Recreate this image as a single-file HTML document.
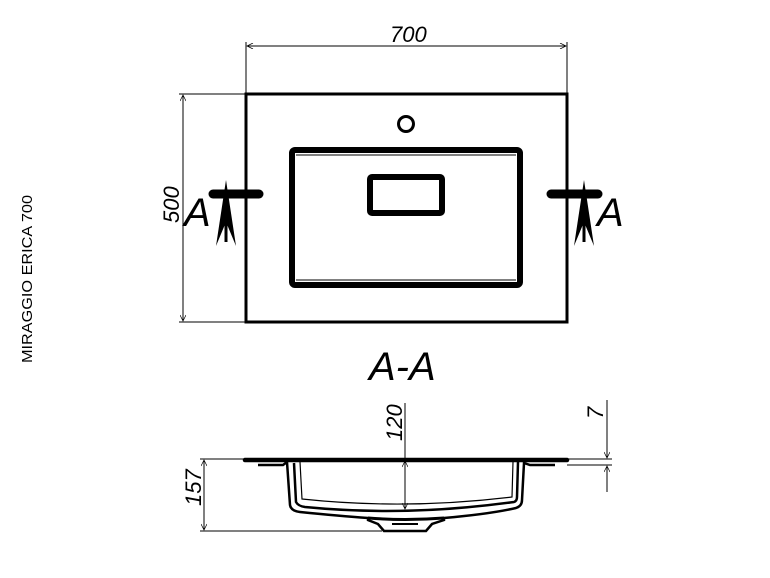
<!DOCTYPE html>
<html><head><meta charset="utf-8"><style>
html,body{margin:0;padding:0;background:#fff;}
svg{display:block;}
text{font-family:"Liberation Sans",sans-serif;font-style:italic;fill:#000;}
</style></head><body>
<svg width="770" height="578" viewBox="0 0 770 578" xmlns="http://www.w3.org/2000/svg">
<defs>
<marker id="ar" viewBox="0 0 10 10" refX="10" refY="5" markerWidth="12" markerHeight="6" orient="auto-start-reverse" markerUnits="userSpaceOnUse"><path d="M0,0 L10,5 L0,10" fill="none" stroke="#000" stroke-width="1.2"/></marker>
</defs>
<text x="0" y="0" transform="translate(32,363) rotate(-90)" font-size="14.5" textLength="168" lengthAdjust="spacingAndGlyphs" style="font-style:normal">MIRAGGIO ERICA 700</text>

<g fill="none" stroke="#000">
<line x1="246" y1="42" x2="246" y2="94" stroke-width="1"/>
<line x1="567" y1="42" x2="567" y2="94" stroke-width="1"/>
<line x1="247" y1="46" x2="566" y2="46" stroke-width="1" marker-start="url(#ar)" marker-end="url(#ar)"/>
<line x1="179" y1="94" x2="246" y2="94" stroke-width="1"/>
<line x1="179" y1="322" x2="246" y2="322" stroke-width="1"/>
<line x1="183" y1="95" x2="183" y2="321" stroke-width="1" marker-start="url(#ar)" marker-end="url(#ar)"/>
<rect x="246" y="94" width="321" height="228" stroke-width="3"/>
<circle cx="406" cy="124" r="7.5" stroke-width="3"/>
<rect x="292" y="150" width="228" height="135" rx="3" stroke-width="6"/>
<line x1="296" y1="155" x2="516" y2="155" stroke-width="1"/>
<line x1="296" y1="280" x2="516" y2="280" stroke-width="1"/>
<rect x="370" y="177" width="72" height="36" rx="2" stroke-width="6"/>
<line x1="213" y1="194" x2="259" y2="194" stroke-width="9" stroke-linecap="round"/>
<line x1="551" y1="194" x2="598" y2="194" stroke-width="9" stroke-linecap="round"/>
<line x1="226" y1="190" x2="226" y2="242" stroke-width="3"/>
<line x1="584" y1="190" x2="584" y2="242" stroke-width="3"/>
</g>
<path d="M226,180 L216,246 L226,222 L236,246 Z" fill="#000"/>
<path d="M584,180 L574,246 L584,222 L594,246 Z" fill="#000"/>
<text x="184" y="226" font-size="40">A</text>
<text x="597" y="226" font-size="40">A</text>
<text x="390" y="42" font-size="22">700</text>
<text x="0" y="0" transform="translate(179,223) rotate(-90)" font-size="22">500</text>
<text x="369" y="380" font-size="40">A-A</text>

<g fill="none" stroke="#000">
<line x1="200" y1="459" x2="245" y2="459" stroke-width="1"/>
<line x1="200" y1="531" x2="382" y2="531" stroke-width="1"/>
<line x1="204" y1="460" x2="204" y2="530" stroke-width="1" marker-start="url(#ar)" marker-end="url(#ar)"/>
<line x1="405" y1="403" x2="405" y2="460" stroke-width="1"/>
<line x1="405" y1="461" x2="405" y2="509" stroke-width="1" marker-start="url(#ar)" marker-end="url(#ar)"/>
<line x1="567" y1="459" x2="612" y2="459" stroke-width="1"/>
<line x1="567" y1="465" x2="612" y2="465" stroke-width="1"/>
<line x1="607" y1="400" x2="607" y2="458" stroke-width="1" marker-end="url(#ar)"/>
<line x1="607" y1="492" x2="607" y2="466" stroke-width="1" marker-end="url(#ar)"/>
<line x1="245" y1="460" x2="567" y2="460" stroke-width="4.5" stroke-linecap="round"/>
<path d="M258,465 L283,465 L287,462 L290,505 Q291,511 300,512 Q340,516 368,518 L368,520 L378,524 L384,531 L426,531 L432,524 L444,520 L444,518 Q490,514 516,508 Q522,506 522,500 L524,463 L530,465 L555,465" stroke-width="2.5"/>
<path d="M294,463 L296,502 Q298,506 305,507 Q405,517 514,502 Q517,501 517,497 L518,462" stroke-width="2.5"/>
<path d="M300,462 L302,499 Q405,510 512,497 L513,462" stroke-width="1.2"/>
<path d="M368,518 Q405,521 444,518" stroke-width="3"/>
<path d="M392,524 L418,524" stroke-width="2"/>
</g>
<text x="0" y="0" transform="translate(201,506) rotate(-90)" font-size="22">157</text>
<text x="0" y="0" transform="translate(402,441) rotate(-90)" font-size="22">120</text>
<text x="0" y="0" transform="translate(603,419) rotate(-90)" font-size="22">7</text>
</svg>
</body></html>
